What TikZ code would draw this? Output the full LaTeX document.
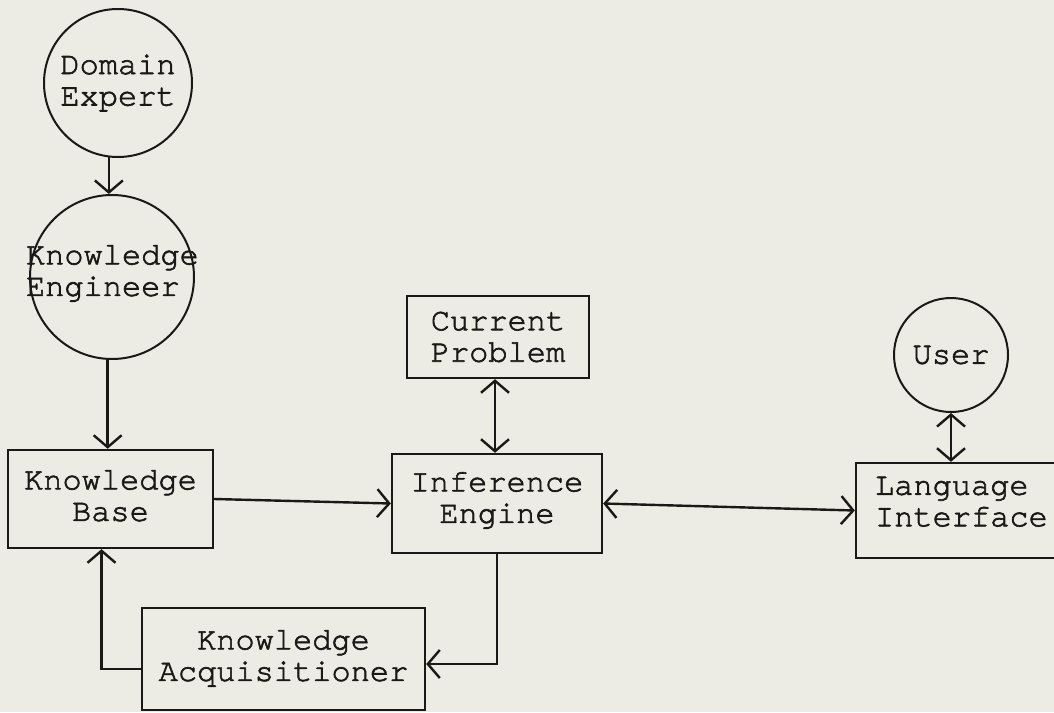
\documentclass[tikz,border=0pt]{standalone}
\usepackage{fontspec}
\setmonofont[FakeBold=2]{TeX Gyre Cursor}
\usetikzlibrary{arrows.meta,calc}
\definecolor{paper}{RGB}{236,236,229}
\definecolor{ink}{RGB}{28,24,24}
\begin{document}
\begin{tikzpicture}[x=1pt,y=-1pt,
  every node/.style={font=\ttfamily\fontsize{32}{31.5}\selectfont, text=ink, align=center, inner sep=0pt},
  boxnode/.style={draw=ink, line width=2.4pt, rectangle},
  circnode/.style={draw=ink, line width=2pt, circle},
  conn/.style={draw=ink, line width=2.4pt},
  >={Straight Barb[length=12pt,width=28pt]}]
\fill[paper] (0,0) rectangle (1054,712);
\useasboundingbox (0,0) rectangle (1054,712);
\clip (0,0) rectangle (1054,712);

\node[circnode, minimum size=148pt] (DE) at (118,83) {Domain\\Expert};
\node[circnode, minimum size=164pt, inner sep=-12pt, text width=172pt, align=left, text depth=44.5pt] (KE) at (112,277) {Knowledge\\Engineer};
\node[boxnode, minimum width=205pt, minimum height=98pt, text depth=7pt] (KB) at (110.5,499) {Knowledge\\Base};
\node[boxnode, minimum width=182pt, minimum height=82pt] (CP) at (498,337) {Current\\Problem};
\node[boxnode, minimum width=210pt, minimum height=99pt, text depth=12pt] (IE) at (497,503.5) {Inference\\Engine};
\node[boxnode, minimum width=283pt, minimum height=102pt, text depth=7pt] (KA) at (283.5,659) {Knowledge\\Acquisitioner};
\node[circnode, minimum size=114pt] (U) at (951,355) {User};
\node[boxnode, minimum width=212pt, minimum height=95pt, text width=174pt, align=left, text depth=49.5pt] (LI) at (962,510.5) {Language\\Interface};

\draw[conn,->] (DE.-97) -- (DE.-97 |- KE.north);
\draw[conn,->] (KE.-93) -- (KE.-93 |- KB.north);
\draw[conn,->] (KB.east) -- (IE.west);
\draw[conn,<->] ([xshift=-3pt]CP.south) -- ([xshift=-3pt]CP.south |- IE.north);
\draw[conn,<->] (IE.east) -- (LI.west);
\draw[conn,<->] (U.south) -- (U.south |- LI.north);
\draw[conn,->] (IE.south) |- ([yshift=-5pt]KA.east);
\draw[conn,->] ([yshift=-10pt]KA.west) -| ([xshift=-9pt]KB.south);
\end{tikzpicture}
\end{document}
